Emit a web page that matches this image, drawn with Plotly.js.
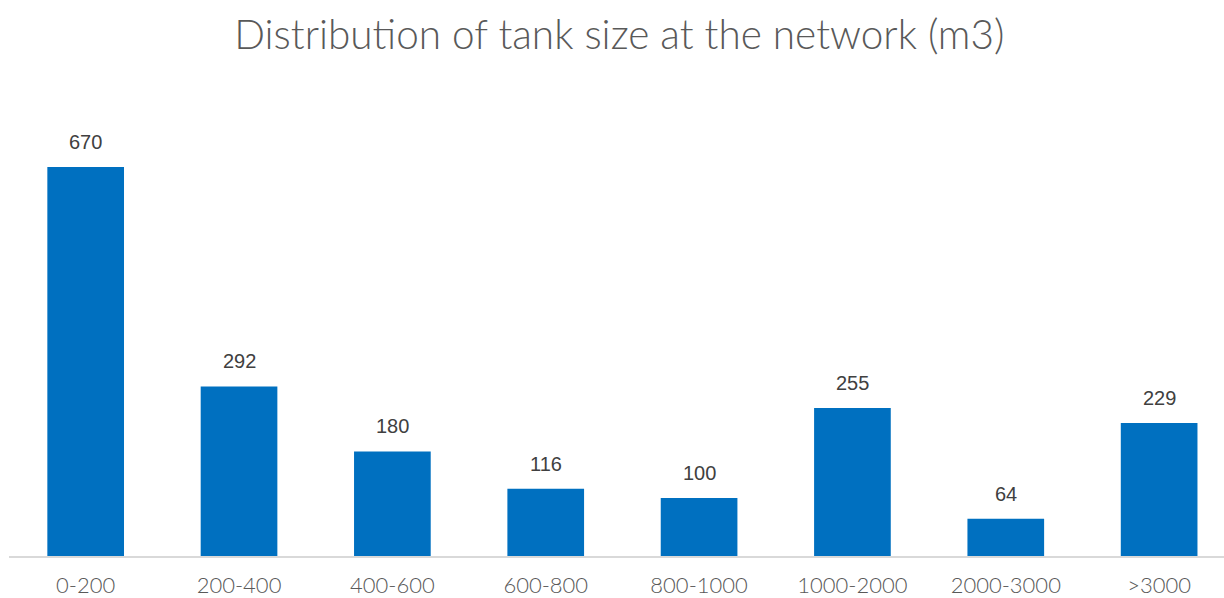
<!DOCTYPE html>
<html><head><meta charset="utf-8">
<script src="https://cdn.plot.ly/plotly-3.0.1.min.js"></script>
<style>html,body{margin:0;padding:0;background:#fff}</style>
</head><body>
<div id="chart" style="width:1224px;height:598px"></div>
<script>
const categories = ["0-200","200-400","400-600","600-800","800-1000","1000-2000","2000-3000",">3000"];
const counts = [670, 292, 180, 116, 100, 255, 64, 229];

const trace = {
  type: "bar",
  x: categories,
  y: counts,
  width: 0.5,
  marker: {color: "#0070C0"},
  hoverinfo: "x+y"
};

const annotations = categories.map((c, i) => ({
  x: c, y: counts[i], xref: "x", yref: "y",
  text: String(counts[i]), showarrow: false,
  yanchor: "bottom", yshift: 12,
  font: {family: "Liberation Sans, Arial, sans-serif", size: 20, color: "#404040"}
}));

const layout = {
  width: 1224, height: 598,
  margin: {l: 9.4, r: 0, t: 100, b: 42},
  paper_bgcolor: "#fff", plot_bgcolor: "#fff",
  title: {text: "Distribution of tank size at the network (m3)", x: 0.506, xanchor: "center", y: 0.942, yanchor: "middle",
          font: {family: "Lato, sans-serif", size: 40.5, weight: 300, color: "#595959"}},
  xaxis: {type: "category", range: [-0.5, 7.423], showgrid: false, zeroline: false,
          showline: true, linecolor: "#D9D9D9", linewidth: 2, ticks: "", ticklabelstandoff: 9,
          tickfont: {family: "Lato, sans-serif", size: 22, weight: 300, color: "#595959"}},
  yaxis: {range: [0, 785.4], visible: false, showgrid: false, zeroline: false},
  annotations: annotations,
  bargap: 0.5,
  showlegend: false
};

Plotly.newPlot("chart", [trace], layout, {displayModeBar: false, staticPlot: true});
</script>
</body></html>
